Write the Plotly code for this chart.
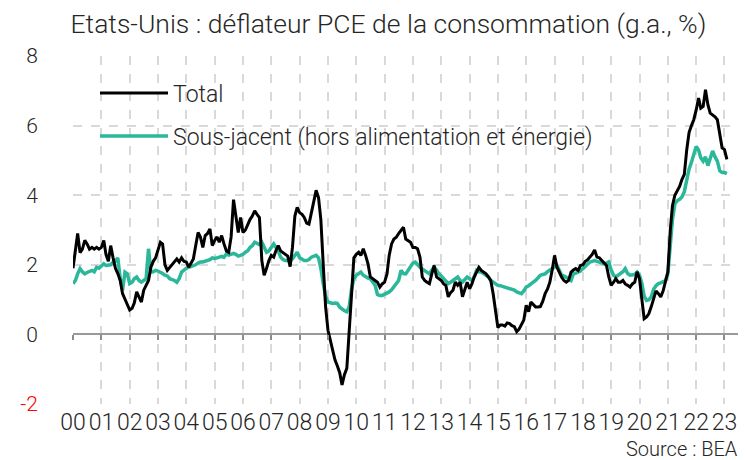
import pandas as pd
import plotly.graph_objects as go

# Monthly year-on-year change (%), Jan 2000 -> Feb 2023
total = [
    # 2000
    1.9, 2.5, 2.9, 2.35, 2.45, 2.7, 2.6, 2.45, 2.5, 2.45, 2.5, 2.45,
    # 2001
    2.5, 2.7, 2.3, 2.1, 2.55, 2.2, 1.9, 1.75, 1.55, 1.17, 1.0, 0.85,
    # 2002
    0.7, 0.75, 0.9, 1.22, 1.05, 0.93, 1.27, 1.4, 1.55, 1.93, 2.1, 2.2,
    # 2003
    2.4, 2.65, 2.6, 2.0, 1.84, 1.93, 2.0, 2.1, 2.17, 2.08, 2.2, 2.1,
    # 2004
    2.08, 1.93, 2.05, 2.17, 2.55, 2.93, 2.8, 2.5, 2.84, 2.9, 3.03, 2.55,
    # 2005
    2.7, 2.8, 2.65, 2.84, 2.6, 2.4, 2.36, 2.8, 3.87, 3.4, 2.93, 3.36,
    # 2006
    2.93, 3.0, 3.15, 3.3, 3.4, 3.55, 3.45, 3.36, 2.12, 1.7, 1.9, 2.12,
    # 2007
    2.27, 2.22, 2.4, 2.55, 2.4, 2.35, 2.31, 2.25, 1.95, 2.5, 3.4, 3.65,
    # 2008
    3.5, 3.45, 3.36, 3.2, 3.17, 3.5, 3.84, 4.14, 3.93, 3.3, 2.0, 0.8,
    # 2009
    0.12, -0.16, -0.45, -0.73, -0.9, -1.1, -1.45, -1.16, -0.97, 0.0, 1.2, 2.2,
    # 2010
    2.3, 2.36, 2.27, 2.46, 2.27, 2.03, 1.65, 1.6, 1.55, 1.5, 1.36, 1.45,
    # 2011
    1.5, 1.74, 2.27, 2.6, 2.74, 2.79, 2.9, 2.98, 3.08, 2.74, 2.7, 2.65,
    # 2012
    2.5, 2.5, 2.46, 2.22, 1.65, 1.55, 1.5, 1.46, 1.74, 1.98, 1.65, 1.6,
    # 2013
    1.55, 1.45, 1.41, 1.08, 1.2, 1.27, 1.5, 1.41, 1.5, 1.08, 1.3, 1.5,
    # 2014
    1.31, 1.46, 1.65, 1.79, 1.93, 1.84, 1.8, 1.74, 1.65, 1.55, 1.17, 0.7,
    # 2015
    0.2, 0.27, 0.27, 0.24, 0.33, 0.31, 0.25, 0.22, 0.08, 0.15, 0.27, 0.41,
    # 2016
    0.84, 0.65, 0.93, 0.85, 0.79, 0.79, 0.8, 0.95, 1.17, 1.3, 1.5, 1.85,
    # 2017
    2.27, 1.93, 1.79, 1.65, 1.55, 1.5, 1.55, 1.79, 1.85, 1.89, 1.84, 1.98,
    # 2018
    2.0, 2.1, 2.14, 2.22, 2.3, 2.43, 2.22, 2.2, 2.12, 2.05, 1.98, 1.65,
    # 2019
    1.41, 1.5, 1.6, 1.5, 1.5, 1.55, 1.45, 1.41, 1.36, 1.45, 1.5, 1.8,
    # 2020
    1.6, 1.0, 0.45, 0.5, 0.6, 0.8, 1.0, 1.25, 1.17, 1.08, 1.25, 1.5,
    # 2021
    1.8, 3.0, 3.7, 4.0, 4.12, 4.25, 4.45, 4.6, 5.3, 5.8, 6.0, 6.17,
    # 2022
    6.45, 6.79, 6.5, 6.55, 7.03, 6.6, 6.36, 6.31, 6.25, 6.17, 5.74, 5.36,
    # 2023
    5.31, 5.03,
]

core = [
    # 2000
    1.46, 1.55, 1.74, 1.89, 1.8, 1.74, 1.78, 1.82, 1.84, 1.8, 1.93, 1.9,
    # 2001
    1.95, 2.03, 1.98, 2.0, 2.0, 2.08, 2.1, 2.2, 1.6, 1.27, 1.79, 1.74,
    # 2002
    1.46, 1.5, 1.6, 1.65, 1.55, 1.5, 1.55, 1.6, 2.46, 1.79, 1.8, 1.84,
    # 2003
    1.82, 1.79, 1.75, 1.7, 1.68, 1.6, 1.58, 1.55, 1.5, 1.6, 1.79, 1.85,
    # 2004
    1.9, 1.93, 1.95, 1.98, 2.0, 2.05, 2.08, 2.08, 2.1, 2.12, 2.15, 2.2,
    # 2005
    2.18, 2.2, 2.22, 2.24, 2.22, 2.31, 2.28, 2.3, 2.33, 2.3, 2.25, 2.27,
    # 2006
    2.3, 2.36, 2.4, 2.5, 2.55, 2.65, 2.62, 2.58, 2.65, 2.5, 2.36, 2.4,
    # 2007
    2.5, 2.6, 2.5, 2.4, 2.22, 2.15, 2.12, 2.12, 2.12, 2.17, 2.25, 2.36,
    # 2008
    2.2, 2.15, 2.12, 2.12, 2.15, 2.22, 2.25, 2.27, 2.2, 1.9, 1.46, 1.1,
    # 2009
    0.93, 0.9, 0.89, 0.9, 0.89, 0.78, 0.72, 0.68, 0.65, 0.79, 1.3, 1.6,
    # 2010
    1.7, 1.75, 1.79, 1.7, 1.65, 1.62, 1.6, 1.5, 1.41, 1.15, 1.12, 1.12,
    # 2011
    1.15, 1.2, 1.22, 1.28, 1.36, 1.45, 1.55, 1.84, 1.75, 1.74, 1.85, 1.93,
    # 2012
    2.05, 2.08, 2.0, 1.93, 1.88, 1.84, 1.8, 1.74, 1.85, 1.93, 1.85, 1.74,
    # 2013
    1.68, 1.6, 1.55, 1.46, 1.5, 1.55, 1.6, 1.65, 1.55, 1.5, 1.58, 1.65,
    # 2014
    1.6, 1.55, 1.65, 1.84, 1.8, 1.79, 1.75, 1.7, 1.65, 1.55, 1.5, 1.46,
    # 2015
    1.41, 1.4, 1.38, 1.37, 1.35, 1.33, 1.3, 1.27, 1.22, 1.2, 1.17, 1.25,
    # 2016
    1.36, 1.4, 1.46, 1.5, 1.55, 1.62, 1.7, 1.72, 1.74, 1.8, 1.84, 1.88,
    # 2017
    1.93, 1.98, 1.85, 1.7, 1.68, 1.65, 1.6, 1.55, 1.74, 1.76, 1.79, 1.82,
    # 2018
    1.89, 1.95, 2.02, 2.08, 2.1, 2.12, 2.1, 2.08, 2.05, 2.03, 2.05, 2.08,
    # 2019
    1.85, 1.7, 1.65, 1.7, 1.74, 1.8, 1.89, 1.75, 1.7, 1.7, 1.72, 1.79,
    # 2020
    1.7, 1.46, 1.1, 0.98, 1.0, 1.08, 1.3, 1.4, 1.46, 1.48, 1.52, 1.55,
    # 2021
    1.74, 2.5, 3.3, 3.75, 3.84, 3.88, 3.95, 4.1, 4.5, 4.75, 4.95, 5.17,
    # 2022
    5.4, 5.3, 5.08, 4.98, 5.1, 4.85, 5.03, 5.27, 5.1, 4.98, 4.7, 4.65,
    # 2023
    4.65, 4.62,
]

dates = pd.date_range("2000-01-01", periods=len(total), freq="MS")

year_ticks = [f"{y}-01-01" for y in range(2000, 2024)]
year_labels = ["00", "01", "02", "03", "04", "05", "06", "07", "08", "09", "10", "11",
               "12", "13", "14", "15", "16", "17", "18", "19", "20", "21", "22", "23"]

y_ticks = [-2, 0, 2, 4, 6, 8]
y_labels = ["<span style='color:#ff0000'>-2</span>", "0", "2", "4", "6", "8"]

series_names = ["Total", "Sous-jacent (hors alimentation et énergie)"]

FONT = "Roboto, sans-serif"
TXT = "#262626"
GRID = "#d9d9d9"
X_RANGE = ["2000-01-01", "2023-07-20"]

fig = go.Figure()
fig.add_trace(go.Scatter(x=dates, y=core, mode="lines", name=series_names[1],
                         line=dict(color="#2bb79a", width=3.5), legendrank=2,
                         legendgroup="core"))
fig.add_trace(go.Scatter(x=dates, y=total, mode="lines", name=series_names[0],
                         line=dict(color="#000000", width=3), legendrank=1,
                         legendgroup="total"))
# helper trace for the tick-mark axis drawn on the zero line
fig.add_trace(go.Scatter(x=dates[:1], y=[None], xaxis="x2", showlegend=False,
                         hoverinfo="skip"))

fig.update_layout(
    width=746, height=460,
    margin=dict(l=65, r=14, t=48, b=64),
    paper_bgcolor="white", plot_bgcolor="white",
    font=dict(family=FONT, color=TXT, size=20, weight=300),
    title=dict(text="Etats-Unis : déflateur PCE de la consommation (g.a., %)",
               x=0.51, xanchor="center", y=0.966, yanchor="middle",
               font=dict(family=FONT, size=26.5, color=TXT, weight=300)),
    showlegend=True,
    legend=dict(x=0.033, y=0.955, xanchor="left", yanchor="top",
                bgcolor="rgba(0,0,0,0)", font=dict(size=23, color=TXT, weight=300),
                itemwidth=68, tracegroupgap=10),
    xaxis=dict(type="date", range=X_RANGE, tickvals=year_ticks, ticktext=year_labels,
               showgrid=True, gridcolor=GRID, griddash="dash", gridwidth=1.5,
               ticks="", showline=False, zeroline=False, tickangle=0,
               tickfont=dict(size=23, color=TXT, weight=300), ticklabelstandoff=2),
    xaxis2=dict(type="date", range=X_RANGE, tickvals=year_ticks, overlaying="x",
                anchor="free", position=0.2, showticklabels=False, showgrid=False,
                ticks="outside", ticklen=5, tickwidth=2, tickcolor="#8c8c8c",
                showline=False, zeroline=False),
    yaxis=dict(range=[-2, 8], tickvals=y_ticks, ticktext=y_labels,
               showgrid=True, gridcolor=GRID, griddash="dash", gridwidth=1.5,
               zeroline=True, zerolinecolor="#999999", zerolinewidth=2,
               showline=False, ticks="", tickfont=dict(size=21, color=TXT, weight=300),
               ticklabelstandoff=34),
    annotations=[dict(text="Source : BEA", xref="paper", yref="paper", x=1.0, y=-0.128,
                      xanchor="right", yanchor="middle", showarrow=False,
                      font=dict(size=20, color=TXT, weight=300))],
)

fig.write_html("out.html")
